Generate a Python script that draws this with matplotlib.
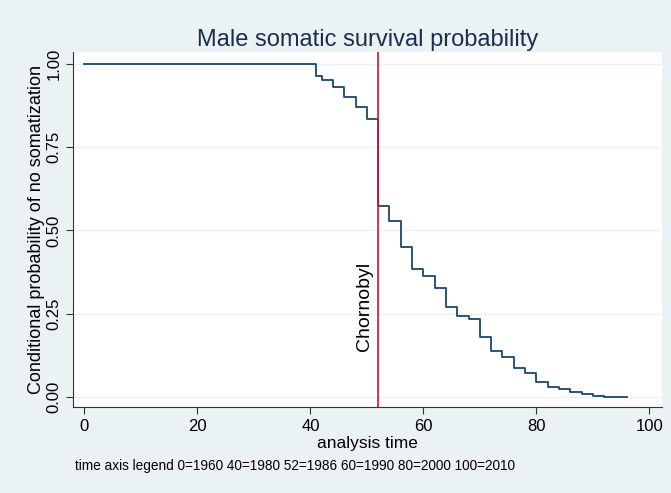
import matplotlib
matplotlib.use("Agg")
import matplotlib.pyplot as plt

plt.rcParams['font.family'] = ['Liberation Sans', 'DejaVu Sans']

# step points of the survival estimate (analysis time, probability)
times = [0, 41, 42, 44, 46, 48, 50, 52, 54, 56, 58, 60, 62, 64, 66, 68, 70,
         72, 74, 76, 78, 80, 82, 84, 86, 88, 90, 92, 96]
surv = [1.0, 0.962, 0.950, 0.930, 0.901, 0.871, 0.834, 0.574, 0.529, 0.451,
        0.384, 0.363, 0.328, 0.269, 0.244, 0.234, 0.179, 0.139, 0.121, 0.088,
        0.071, 0.044, 0.029, 0.023, 0.015, 0.008, 0.003, 0.0, 0.0]
event_x = 52
yticks = [0, 0.25, 0.5, 0.75, 1.0]
ytick_labels = ["0.00", "0.25", "0.50", "0.75", "1.00"]
xticks = [0, 20, 40, 60, 80, 100]

bg = "#EAF2F3"
fig = plt.figure(figsize=(6.71, 4.93), dpi=100)
fig.patch.set_facecolor(bg)
ax = fig.add_axes([0.109, 0.175, 0.878, 0.720])
ax.set_facecolor("white")

ax.step(times, surv, where="post", color="#1A476F", linewidth=1.3)
ax.axvline(event_x, color="#D0103A", linewidth=1.2)
ax.text(event_x - 1.0, 0.273, "Chornobyl", rotation=90, ha="right", va="center",
        fontsize=14)

ax.set_xlim(-2, 102.3)
ax.set_ylim(-0.029, 1.036)
ax.set_xticks(xticks)
ax.set_yticks(yticks)
ax.set_yticklabels(ytick_labels, rotation=90, va="center")
ax.tick_params(labelsize=12, length=5, color="#333333")
ax.grid(True, axis="y", color=bg, linewidth=1.0)
ax.set_axisbelow(True)
for side in ["top", "right"]:
    ax.spines[side].set_visible(False)
for side in ["left", "bottom"]:
    ax.spines[side].set_color("#333333")

ax.set_title("Male somatic survival probability", fontsize=17, color="#1C2D50", pad=4)
ax.set_xlabel("analysis time", fontsize=12.5, labelpad=2)
ax.set_ylabel("Conditional probability of no somatization", fontsize=13, labelpad=1)

fig.text(0.112, 0.047, "time axis legend 0=1960 40=1980 52=1986 60=1990 80=2000 100=2010",
         fontsize=9.8)

plt.savefig("out.png", dpi=100, facecolor=bg)
